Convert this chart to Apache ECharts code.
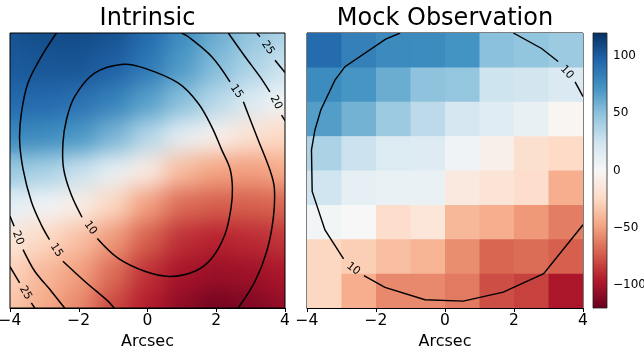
<!DOCTYPE html>
<html><head><meta charset="utf-8">
<script src="https://cdn.jsdelivr.net/npm/echarts/dist/echarts.min.js"></script>
<style>
html,body{margin:0;padding:0;background:#fff;}
#wrap{position:relative;width:644px;height:354px;overflow:hidden;}
.layer{position:absolute;left:0;top:0;width:644px;height:354px;}
#clipbox{position:absolute;left:10px;top:33px;width:275px;height:275px;overflow:hidden;}
#blur{position:absolute;left:-10px;top:-33px;width:644px;height:354px;filter:blur(11px);}
</style></head><body>
<div id="wrap">
<div id="field" class="layer"></div>
<div id="clipbox"><div id="blur"></div></div>
<div id="main" class="layer"></div>
</div>
<script>
// ---------------- data ----------------
const xTicks = [-4, -2, 0, 2, 4];
const cbarTicks = [-100, -50, 0, 50, 100];
const titles = ['Intrinsic', 'Mock Observation'];
const xLabel = 'Arcsec';

// intrinsic velocity field, sampled at integer arcsec (rows: y = 4 .. -4)
const intrinsicX = [-4, -3, -2, -1, 0, 1, 2, 3, 4];
const intrinsicY = [4, 3, 2, 1, 0, -1, -2, -3, -4];
const intrinsicV = [
  [104, 107, 108, 105,  94,  76,  60,  48,  38],
  [101, 103, 103,  98,  86,  68,  52,  38,  26],
  [ 94,  94,  90,  81,  66,  50,  34,  18,   3],
  [ 78,  76,  70,  56,  35,  12,  -5, -18, -25],
  [ 45,  40,  28,  10, -10, -38, -48, -50, -45],
  [ 12,   4,  -8, -26, -50, -68, -72, -72, -70],
  [-15, -25, -36, -52, -72, -88, -93, -90, -86],
  [-28, -40, -50, -68, -88,-100,-104,-102, -98],
  [-34, -46, -58, -80, -95,-108,-116,-112,-106]
];

// mock observation, 8x8 pixels (rows: y = 3.5 .. -3.5)
const mockX = [-3.5, -2.5, -1.5, -0.5, 0.5, 1.5, 2.5, 3.5];
const mockY = [3.5, 2.5, 1.5, 0.5, -0.5, -1.5, -2.5, -3.5];
const mockV = [
  [ 93,  82,  77,  76,  72,  50,  48,  44],
  [ 76,  71,  60,  49,  47,  25,  23,  18],
  [ 67,  57,  44,  32,  21,  15,   9,  -2],
  [ 38,  26,  17,  16,   5,  -7, -20, -24],
  [ 24,  11,   8,   8, -12, -17, -22, -44],
  [  3,   0, -22, -15, -40, -44, -52, -62],
  [-26, -30, -37, -41, -56, -70, -68, -72],
  [-26, -44, -58, -58, -63, -78, -82, -98]
];

// contour paths (arcsec), split where the inline labels sit
const contour10 = [[
  [-1.46,-1.98],[-0.86,-2.55],[-0.08,-2.93],[0.65,-3.08],[1.38,-2.93],[1.87,-2.55],
  [2.25,-1.87],[2.43,-1.09],[2.47,-0.51],[2.40,0.05],[2.16,0.60],[1.87,1.27],
  [1.48,1.95],[0.90,2.54],[-0.07,2.97],[-0.71,3.09],[-1.54,2.83],[-2.12,2.15],
  [-2.36,1.47],[-2.46,0.79],[-2.44,0.05],[-2.22,-0.70],[-1.905,-1.36]
]];
const contour15 = [
  [[-2.65,4.0],[-3.09,3.31],[-3.48,2.54],[-3.67,1.66],[-3.72,0.89],[-3.62,0.04],[-3.38,-0.90],[-3.09,-1.58],[-2.85,-2.01]],
  [[-2.46,-2.64],[-1.83,-3.22],[-1.15,-3.80],[-0.97,-4.0]],
  [[2.64,-4.0],[3.13,-3.22],[3.47,-2.35],[3.66,-1.38],[3.69,-0.51],[3.56,0.02],[3.22,0.89],[2.92,1.66],[2.79,2.0]],
  [[2.40,2.58],[1.87,3.31],[1.19,3.89],[0.99,4.0]]
];
const contour20 = [
  [[-4.0,-1.33],[-3.88,-1.62]],
  [[-3.62,-2.30],[-3.28,-2.93],[-2.80,-3.51],[-2.41,-4.0]],
  [[2.35,4.0],[2.84,3.31],[3.27,2.73],[3.56,2.29]],
  [[3.90,1.61],[4.0,1.45]]
];
const contour25 = [
  [[-4.0,-2.80],[-3.72,-3.27]],
  [[-3.38,-3.85],[-3.28,-4.0]],
  [[3.18,4.0],[3.27,3.89]],
  [[3.71,3.21],[4.0,2.85]]
];
const intrinsicLabels = [
  [-1.66,-1.67,'10',-54],[-2.65,-2.32,'15',-58],[2.59,2.30,'15',-56],
  [-3.77,-1.96,'20',-69],[3.74,1.98,'20',-63],[-3.55,-3.56,'25',-60],[3.50,3.57,'25',-57]
];
const contourMock = [
  [[1.98,4.0],[2.80,3.55],[3.28,3.17]],
  [[3.77,2.58],[4.0,2.15]],
  [[4.0,-1.58],[2.86,-3.0],[1.69,-3.54],[0.53,-3.80],[-0.58,-3.76],[-1.74,-3.40],[-2.35,-3.06]],
  [[-2.94,-2.57],[-3.48,-1.73],[-3.85,-0.61],[-3.87,0.60],[-3.77,1.18],[-3.60,1.76],[-3.19,2.63],[-2.90,3.02],[-1.72,3.82],[-1.30,4.0]]
];
const mockLabels = [[3.53,2.86,'10',-47],[-2.66,-2.86,'10',-37]];

// ---------------- styling ----------------
const RDBU = ['#67001f','#b2182b','#d6604d','#f4a582','#fddbc7','#f7f7f7','#d1e5f0','#92c5de','#4393c3','#2166ac','#053061'];
const FONT = 'DejaVu Sans';
const VMIN = -120, VMAX = 120;
const minus = v => (v < 0 ? '\u2212' : '') + Math.abs(v);

const toCells = (xs, ys, vs) => {
  const out = [];
  ys.forEach((y, i) => xs.forEach((x, j) => out.push([x, y, vs[i][j]])));
  return out;
};
const fieldData = toCells(intrinsicX, intrinsicY, intrinsicV);
const mockData = toCells(mockX, mockY, mockV);

// bleed: how far (in cells) the outermost cells are stretched past the frame
// in the soft layer, so the blur does not fade at the frame edge
function cellRenderer(half, clip, bleed) {
  return function (params, api) {
    const x = api.value(0), y = api.value(1);
    let l = x - half, r = x + half, t = y + half, b = y - half;
    if (bleed) {
      if (x <= -4) l -= bleed;
      if (x >= 4) r += bleed;
      if (y >= 4) t += bleed;
      if (y <= -4) b -= bleed;
    }
    const p0 = api.coord([l, t]);
    const p1 = api.coord([r, b]);
    let rect = {x: p0[0], y: p0[1], width: p1[0] - p0[0] + 0.7, height: p1[1] - p0[1] + 0.7};
    if (clip) {
      const cs = params.coordSys;
      rect = echarts.graphic.clipRectByRect(rect, {x: cs.x, y: cs.y, width: cs.width, height: cs.height});
      if (!rect) return;
    }
    return {type: 'rect', shape: rect, style: {fill: api.visual('color')}};
  };
}

const gridBase = {outerBoundsMode: 'none', containLabel: false};
const leftGrid = Object.assign({left: 10, top: 33, width: 275, height: 275}, gridBase);
const rightGrid = Object.assign({left: 307, top: 33, width: 276, height: 275}, gridBase);
const cbarGrid = Object.assign({left: 593, top: 33, width: 14, height: 275}, gridBase);

function fieldOption(clip, bleed) {
  return {
    animation: false,
    backgroundColor: 'transparent',
    grid: [Object.assign({show: false}, leftGrid)],
    xAxis: [{type: 'value', min: -4, max: 4, show: false}],
    yAxis: [{type: 'value', min: -4, max: 4, show: false}],
    visualMap: {show: false, type: 'continuous', min: VMIN, max: VMAX, dimension: 2, inRange: {color: RDBU}},
    series: [{type: 'custom', data: fieldData, renderItem: cellRenderer(0.5, clip, bleed), clip: clip, encode: {x: 0, y: 1}, silent: true}]
  };
}
echarts.init(document.getElementById('field'), null, {renderer: 'canvas'}).setOption(fieldOption(true, 0));
echarts.init(document.getElementById('blur'), null, {renderer: 'canvas'}).setOption(fieldOption(false, 1.2));

// ---------------- main chart ----------------
function contourSeries(segs, xi, smooth, width) {
  return {
    type: 'custom', xAxisIndex: xi, yAxisIndex: xi, clip: true, silent: true, z: 5,
    data: segs.map((s, i) => [s[0][0], s[0][1], i]),
    encode: {x: 0, y: 1},
    renderItem: function (params, api) {
      const pts = segs[params.dataIndex].map(p => api.coord(p));
      return {type: 'polyline', shape: {points: pts, smooth: smooth},
        style: {stroke: '#000', lineWidth: width, fill: null}};
    }
  };
}
function labelSeries(data, xi) {
  return {
    type: 'custom', xAxisIndex: xi, yAxisIndex: xi, data: data.map(d => [d[0], d[1], d[3]]),
    encode: {x: 0, y: 1}, silent: true, z: 6,
    renderItem: function (params, api) {
      const p = api.coord([api.value(0), api.value(1)]);
      return {type: 'text', x: p[0], y: p[1], rotation: api.value(2) * Math.PI / 180,
        style: {text: String(data[params.dataIndex][2]), fontSize: 11, fontFamily: FONT, fill: '#000', align: 'center', verticalAlign: 'middle'}};
    }
  };
}

const xAxisCommon = {
  type: 'value', min: -4, max: 4, interval: 2,
  axisLine: {show: true, onZero: false, lineStyle: {color: '#000', width: 1}},
  axisTick: {show: true, length: 4, lineStyle: {color: '#000', width: 1}},
  axisLabel: {show: true, margin: 5, fontSize: 15.5, fontFamily: FONT, color: '#000', formatter: minus, showMinLabel: true, showMaxLabel: true, hideOverlap: false},
  splitLine: {show: false},
  name: xLabel, nameLocation: 'middle', nameGap: 25,
  nameTextStyle: {fontSize: 16, fontFamily: FONT, color: '#000'}
};
const yAxisHidden = {type: 'value', min: -4, max: 4, axisLine: {show: false}, axisTick: {show: false}, axisLabel: {show: false}, splitLine: {show: false}};

const main = echarts.init(document.getElementById('main'), null, {renderer: 'canvas'});
main.setOption({
  animation: false,
  backgroundColor: 'transparent',
  grid: [
    Object.assign({show: true, borderColor: '#000', borderWidth: 1, backgroundColor: 'transparent'}, leftGrid),
    Object.assign({show: true, borderColor: '#000', borderWidth: 1, backgroundColor: 'transparent'}, rightGrid),
    Object.assign({show: false}, cbarGrid)
  ],
  xAxis: [
    Object.assign({gridIndex: 0}, xAxisCommon),
    Object.assign({gridIndex: 1}, xAxisCommon),
    {gridIndex: 2, type: 'value', min: 0, max: 1, show: false}
  ],
  yAxis: [
    Object.assign({gridIndex: 0}, yAxisHidden),
    Object.assign({gridIndex: 1}, yAxisHidden),
    {gridIndex: 2, type: 'value', min: VMIN, max: VMAX, position: 'right',
      axisLine: {show: true, lineStyle: {color: '#222', width: 0.8}},
      axisTick: {show: true, length: 4, customValues: cbarTicks, lineStyle: {color: '#000', width: 1}},
      axisLabel: {show: true, margin: 6, customValues: cbarTicks, fontSize: 12, fontFamily: FONT, color: '#000', formatter: minus},
      splitLine: {show: false}}
  ],
  visualMap: {show: false, type: 'continuous', min: VMIN, max: VMAX, dimension: 2, seriesIndex: 0, inRange: {color: RDBU}},
  graphic: [
    {type: 'text', x: 147.5, y: 19, style: {text: titles[0], fontSize: 24, fontFamily: FONT, fill: '#000', align: 'center', verticalAlign: 'middle'}},
    {type: 'text', x: 445, y: 19, style: {text: titles[1], fontSize: 24, fontFamily: FONT, fill: '#000', align: 'center', verticalAlign: 'middle'}}
  ],
  series: [
    {type: 'custom', xAxisIndex: 1, yAxisIndex: 1, data: mockData, encode: {x: 0, y: 1}, renderItem: cellRenderer(0.5, true, 0), silent: true, z: 1},
    {type: 'custom', xAxisIndex: 2, yAxisIndex: 2, data: [[0.5, 0]], encode: {x: 0, y: 1}, silent: true,
      renderItem: function (params) {
        const cs = params.coordSys;
        const stops = RDBU.map((c, i) => ({offset: i / (RDBU.length - 1), color: c}));
        return {type: 'rect', shape: {x: cs.x, y: cs.y, width: cs.width, height: cs.height},
          style: {fill: new echarts.graphic.LinearGradient(0, 1, 0, 0, stops), stroke: '#222', lineWidth: 0.8}};
      }},
    contourSeries(contour10, 0, 0.35, 1.5),
    contourSeries(contour15, 0, 0.35, 1.5),
    contourSeries(contour20, 0, 0.3, 1.5),
    contourSeries(contour25, 0, 0, 1.5),
    contourSeries(contourMock, 1, 0, 1.4),
    labelSeries(intrinsicLabels, 0),
    labelSeries(mockLabels, 1)
  ]
});
</script>
</body></html>
